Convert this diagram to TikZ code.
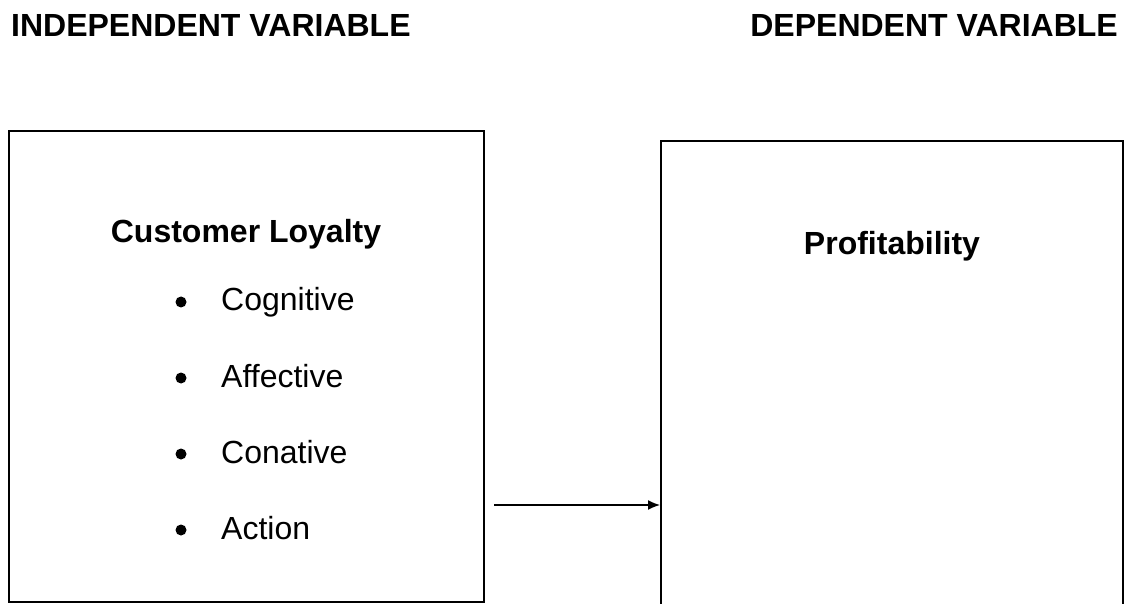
\documentclass[tikz,border=0pt]{standalone}
\usepackage{fontspec}
\setmainfont{Liberation Sans}
\usetikzlibrary{positioning,calc,arrows.meta}
\tikzset{varbox/.style={draw,line width=2pt,rectangle,inner sep=0pt}  }
\tikzset{bigtxt/.style={inner sep=0pt,anchor=base,font=\fontsize{32}{38}\selectfont}  }
\tikzset{bvert/.style={circle,fill=black,minimum size=11pt,inner sep=0pt}  }
\tikzset{>={Latex[length=12pt,width=10pt]}}

\begin{document}
\begin{tikzpicture}[x=1pt,y=-1pt]
\clip (0,0) rectangle (1128,604);

    % headings
    \node[bigtxt,anchor=base west,font=\fontsize{32}{38}\selectfont\bfseries] (indephead) at (11,37) {INDEPENDENT VARIABLE};
    \node[bigtxt,anchor=base east,font=\fontsize{32}{38}\selectfont\bfseries] (dephead) at (1118,37) {DEPENDENT VARIABLE};

    % the two boxes
    \node[varbox,minimum width=475pt,minimum height=470pt] (indep) at (246.5,366.5) {};
    \node[varbox,minimum width=462pt,minimum height=480pt] (dep) at (892,381) {};

    \node[bigtxt,font=\fontsize{32}{38}\selectfont\bfseries] (loyal) at (246,243) {Customer Loyalty};
    \node[bigtxt,font=\fontsize{32}{38}\selectfont\bfseries] (profit) at (892,255) {Profitability};

    \foreach \name [count=\i] in {Cognitive,Affective,Conative,Action}
    {
        \pgfmathsetmacro{\yy}{311+76*(\i-1)};
        \node[bigtxt,anchor=base west] (item\i) at (221,\yy) {\name};
        \node[bvert] (bul\i) at (181,\yy-9) {};
    }

\coordinate (arrstart) at (494,505);
\draw[->,line width=1.5pt] (arrstart)--(arrstart -| dep.west);
\end{tikzpicture}
\end{document}
